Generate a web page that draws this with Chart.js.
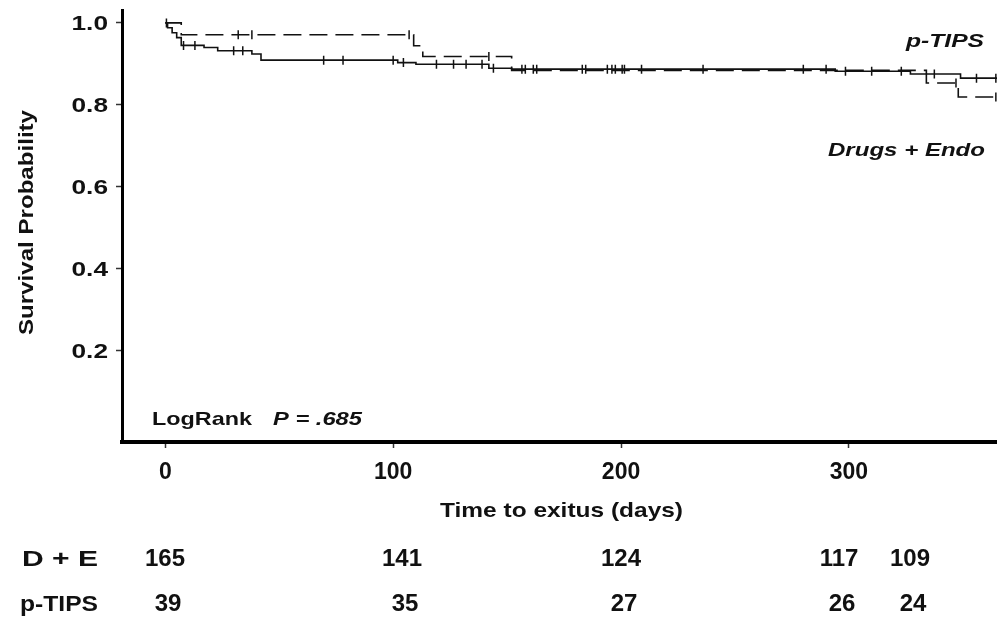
<!DOCTYPE html>
<html>
<head>
<meta charset="utf-8">
<script src="https://cdn.jsdelivr.net/npm/chart.js@4.4.1/dist/chart.umd.min.js"></script>
<style>
  html, body { margin: 0; padding: 0; background: #fff; }
  #wrap { width: 997px; height: 617px; }
</style>
</head>
<body>
<div id="wrap"><canvas id="kmChart" width="997" height="617"></canvas></div>
<script>
// Kaplan-Meier survival by treatment arm, time in days
var endoTimes = [0, 1, 3, 5, 7, 17, 23, 38, 42, 102, 110, 142, 152, 294, 327, 349, 365];
var endoSurv  = [1.0, 0.988, 0.976, 0.964, 0.945, 0.940, 0.932, 0.924, 0.909, 0.903, 0.899, 0.889, 0.887, 0.882, 0.875, 0.865, 0.865];
var endoCensored = [0.5, 8, 13, 30, 34, 69.5, 78, 100, 104.5, 119, 126.5, 132, 139, 144, 156.5, 158, 161.5, 163,
                    183, 184.5, 194, 196, 197.5, 200.5, 201.5, 209, 236, 280, 290, 298.5, 310, 323, 337.5, 356, 364.5];

var tipsTimes = [0, 7, 109, 113, 152, 334, 348, 365];
var tipsSurv  = [1.0, 0.971, 0.944, 0.918, 0.884, 0.853, 0.819, 0.819];
var tipsCensored = [32, 38, 107, 142, 347, 364.5];

var xTicks = [0, 100, 200, 300];
var yTicks = [0.2, 0.4, 0.6, 0.8, 1.0];

// numbers at risk
var riskRows = ['D + E', 'p-TIPS'];
var riskEndo = [165, 141, 124, 117, 109];
var riskTips = [39, 35, 27, 26, 24];

var FONT = "'Liberation Sans', Arial, sans-serif";
var NARROW = "'Liberation Sans Narrow', 'Arial Narrow', 'Liberation Sans', sans-serif";

function toPoints(times, surv) {
  return times.map(function (t, i) { return { x: t, y: surv[i] }; });
}

// value of the step curve at time t
function survAt(times, surv, t) {
  var v = surv[0];
  for (var i = 0; i < times.length; i++) {
    if (times[i] <= t) v = surv[i];
  }
  return v;
}

function censorPoints(cens, times, surv) {
  return cens.map(function (t) { return { x: t, y: survAt(times, surv, t) }; });
}

// draw text, optionally squeezed/stretched to a given width
function drawText(ctx, text, font, x, y, opts) {
  opts = opts || {};
  ctx.save();
  ctx.font = font;
  ctx.fillStyle = '#111';
  ctx.textBaseline = 'alphabetic';
  var w = ctx.measureText(text).width;
  var sx = opts.width ? opts.width / w : (opts.sx || 1);
  ctx.translate(x, y);
  if (opts.rotate) ctx.rotate(opts.rotate);
  ctx.scale(sx, 1);
  ctx.textAlign = opts.align || 'left';
  ctx.fillText(text, 0, 0);
  ctx.restore();
}

var textPlugin = {
  id: 'kmText',
  afterDraw: function (chart) {
    var ctx = chart.ctx;
    var xs = chart.scales.x, ys = chart.scales.y;

    // tick labels
    yTicks.forEach(function (v) {
      drawText(ctx, v.toFixed(1), 'bold 21px ' + FONT, 108, ys.getPixelForValue(v) + 7.5, { align: 'right', sx: 1.25 });
    });
    xTicks.forEach(function (v) {
      drawText(ctx, String(v), 'bold 23px ' + FONT, xs.getPixelForValue(v), 479, { align: 'center' });
    });

    // axis titles
    drawText(ctx, 'Survival Probability', 'bold 21px ' + FONT, 33, 335, { rotate: -Math.PI / 2, width: 225 });
    drawText(ctx, 'Time to exitus (days)', 'bold 21px ' + FONT, 440, 517, { width: 243 });

    // curve labels and test result
    drawText(ctx, 'p-TIPS', 'italic bold 19px ' + FONT, 906, 47, { width: 78 });
    drawText(ctx, 'Drugs + Endo', 'italic bold 19px ' + FONT, 828, 156, { width: 157 });
    drawText(ctx, 'LogRank', 'bold 19px ' + FONT, 152, 425, { width: 100 });
    drawText(ctx, 'P = .685', 'italic bold 19px ' + FONT, 273, 425, { width: 89 });

    // numbers at risk table
    var colX = [165, 402, 621, 839, 910];
    var rowY = [566, 611];
    drawText(ctx, riskRows[0], 'bold 22px ' + NARROW, 22, rowY[0], { width: 76 });
    drawText(ctx, riskRows[1], 'bold 22px ' + NARROW, 20, rowY[1], { width: 78 });
    riskEndo.forEach(function (n, i) {
      drawText(ctx, String(n), 'bold 24px ' + NARROW, colX[i], rowY[0], { align: 'center' });
    });
    riskTips.forEach(function (n, i) {
      drawText(ctx, String(n), 'bold 24px ' + NARROW, colX[i] + 3, rowY[1], { align: 'center' });
    });
  }
};

var ctx = document.getElementById('kmChart').getContext('2d');
var kmChart = new Chart(ctx, {
  type: 'line',
  data: {
    datasets: [
      {
        label: 'Drugs + Endo',
        data: toPoints(endoTimes, endoSurv),
        stepped: true,
        borderColor: '#111',
        borderWidth: 1.6,
        pointRadius: 0,
        fill: false
      },
      {
        label: 'p-TIPS',
        data: toPoints(tipsTimes, tipsSurv),
        stepped: true,
        borderColor: '#111',
        borderWidth: 1.6,
        borderDash: [18, 8],
        pointRadius: 0,
        fill: false
      },
      {
        label: 'Drugs + Endo censored',
        type: 'scatter',
        data: censorPoints(endoCensored, endoTimes, endoSurv),
        pointStyle: 'line',
        rotation: 90,
        pointRadius: 4.5,
        borderColor: '#111',
        borderWidth: 1.5,
        showLine: false
      },
      {
        label: 'p-TIPS censored',
        type: 'scatter',
        data: censorPoints(tipsCensored, tipsTimes, tipsSurv),
        pointStyle: 'line',
        rotation: 90,
        pointRadius: 4.5,
        borderColor: '#111',
        borderWidth: 1.5,
        showLine: false
      }
    ]
  },
  options: {
    responsive: false,
    animation: false,
    layout: { autoPadding: false, padding: { top: 10, right: 0, bottom: 0, left: 0 } },
    plugins: {
      legend: { display: false },
      tooltip: { enabled: false }
    },
    scales: {
      x: {
        type: 'linear',
        min: -19,
        max: 365,
        afterBuildTicks: function (scale) {
          scale.ticks = xTicks.map(function (v) { return { value: v }; });
        },
        afterFit: function (scale) { scale.height = 175; },
        grid: { drawOnChartArea: false, drawTicks: true, tickLength: 6, tickWidth: 1.5, tickColor: '#333' },
        border: { display: true, width: 4, color: '#000' },
        ticks: { color: 'rgba(0,0,0,0)', autoSkip: false, maxRotation: 0 }
      },
      y: {
        type: 'linear',
        min: -0.024,
        max: 1.031,
        afterBuildTicks: function (scale) {
          scale.ticks = yTicks.map(function (v) { return { value: v }; });
        },
        afterFit: function (scale) { scale.width = 122; },
        grid: { drawOnChartArea: false, drawTicks: true, tickLength: 6, tickWidth: 1.5, tickColor: '#333' },
        border: { display: true, width: 3, color: '#000' },
        ticks: { color: 'rgba(0,0,0,0)' }
      }
    }
  },
  plugins: [textPlugin]
});
</script>
</body>
</html>
